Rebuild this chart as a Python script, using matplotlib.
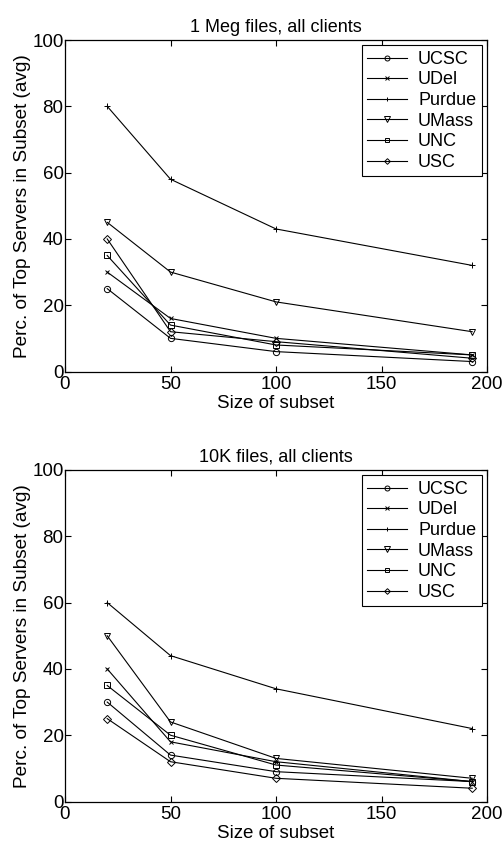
import matplotlib
matplotlib.use("Agg")
from matplotlib import pyplot as plt

plt.rcParams['font.family'] = ['Liberation Sans', 'DejaVu Sans']

sizes = [20, 50, 100, 193]
names = ["UCSC", "UDel", "Purdue", "UMass", "UNC", "USC"]
markers = ["o", "x", "+", "v", "s", "D"]

# 1 Meg files
meg_ucsc = [25, 10, 6, 3]
meg_udel = [30, 16, 10, 5]
meg_purdue = [80, 58, 43, 32]
meg_umass = [45, 30, 21, 12]
meg_unc = [35, 14, 8, 5]
meg_usc = [40, 12, 9, 4]

# 10K files
k10_ucsc = [30, 14, 9, 6]
k10_udel = [40, 18, 12, 6]
k10_purdue = [60, 44, 34, 22]
k10_umass = [50, 24, 13, 7]
k10_unc = [35, 20, 11, 6]
k10_usc = [25, 12, 7, 4]

panels = [
  ("1 Meg files, all clients", [meg_ucsc, meg_udel, meg_purdue, meg_umass, meg_unc, meg_usc]),
  ("10K files, all clients", [k10_ucsc, k10_udel, k10_purdue, k10_umass, k10_unc, k10_usc]),
]
msizes = {"o": 4.5, "x": 3.5, "+": 4, "v": 5, "s": 4, "D": 3.6}

fig = plt.figure(figsize=(5.03, 8.42), dpi=100)
W, H = 503, 842
boxes = [(65, 40, 487, 371.5), (65, 470, 487, 801.5)]

for (title, series), (l, t, r, b) in zip(panels, boxes):
  ax = fig.add_axes([l / W, 1 - b / H, (r - l) / W, (b - t) / H])
  for name, m, y in zip(names, markers, series):
    ax.plot(sizes, y, color="black", lw=0.8, marker=m, ms=msizes[m],
            mfc="none", mec="black", mew=0.7, label=name)
  ax.set_xlim(0, 200)
  ax.set_ylim(0, 100)
  ax.set_xticks([0, 50, 100, 150, 200])
  ax.set_yticks([0, 20, 40, 60, 80, 100])
  ax.tick_params(direction="in", top=True, right=True, labelsize=13.5,
                 length=4, width=0.8)
  ax.tick_params(axis="x", pad=3.5)
  ax.tick_params(axis="y", pad=1)
  for s in ax.spines.values():
    s.set_linewidth(0.9)
  ax.set_title(title, fontsize=13, pad=6)
  ax.set_xlabel("Size of subset", fontsize=13.5, labelpad=1.5)
  ax.set_ylabel("Perc. of Top Servers in Subset (avg)", fontsize=13.7, labelpad=1)
  leg = ax.legend(loc="upper right", fontsize=13, handlelength=2.2,
                  handletextpad=0.6, labelspacing=0.2, borderpad=0.3,
                  borderaxespad=0.3, fancybox=False, framealpha=1,
                  edgecolor="black", markerscale=0.8)
  leg.get_frame().set_linewidth(0.8)

fig.savefig("out.png", dpi=100)
